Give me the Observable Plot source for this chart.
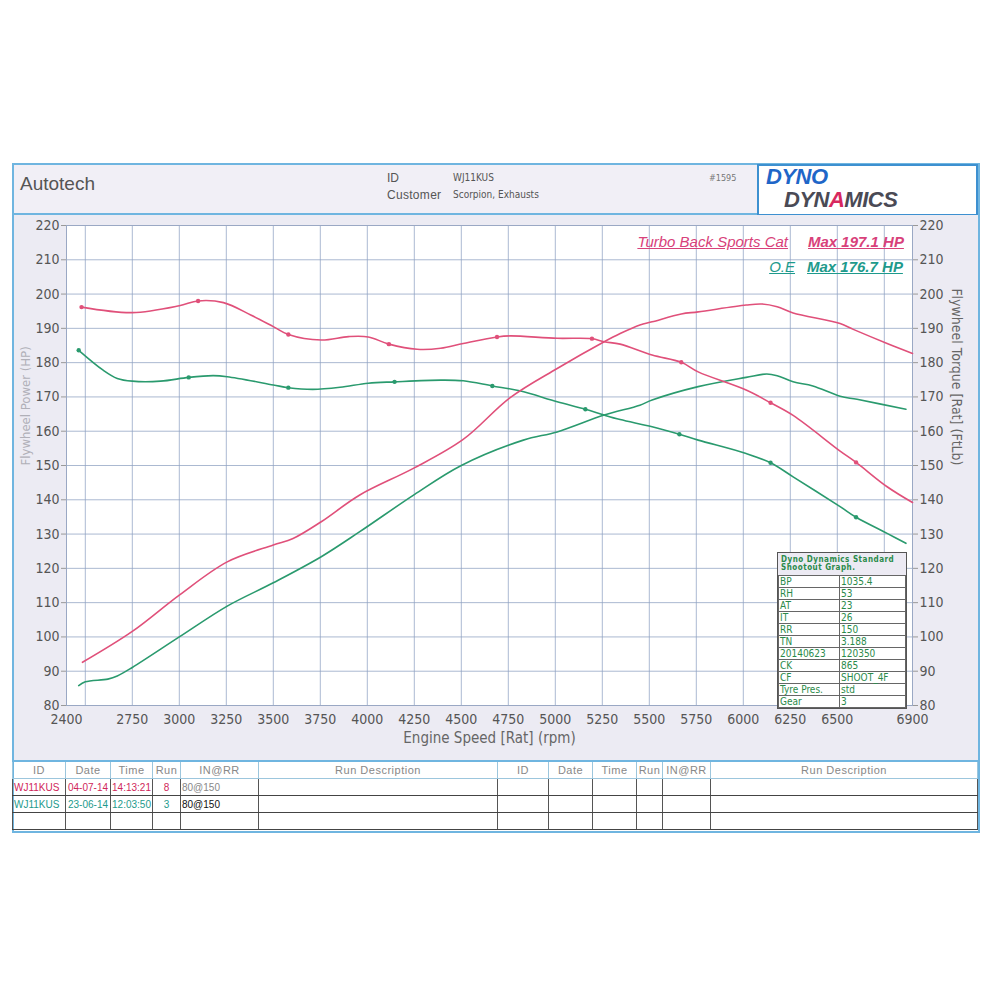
<!DOCTYPE html>
<html><head><meta charset="utf-8">
<script src="https://cdn.jsdelivr.net/npm/d3@7"></script>
<script src="https://cdn.jsdelivr.net/npm/@observablehq/plot@0.6"></script>
<style>
body{margin:0;background:#fff;font-family:"Liberation Sans",Arial,sans-serif;}
#page{position:relative;width:1000px;height:1000px;overflow:hidden;}
.abs{position:absolute;}
#frame{left:12px;top:163px;width:964px;height:666px;border:2px solid #6fb5e0;}
#header{left:14px;top:165px;width:743px;height:48px;background:#f1eff6;border-bottom:2px solid #6fb5e0;}
#logo{left:757px;top:164px;width:217px;height:48px;background:#fff;border:2px solid #3d90d0;}
.narrow{font-family:"Liberation Sans Narrow","DejaVu Sans Condensed",Arial,sans-serif;}
.leg{font-style:italic;text-decoration:underline;font-size:15px;white-space:nowrap;}
#info{left:777px;top:552px;width:128px;background:#fff;border:1px solid #555;font-size:10px;color:#2a8a4a;}
#info table{border-collapse:collapse;width:100%;}
#info td{border:1px solid #666;padding:0 1px;height:11px;line-height:11px;}
.bt{position:absolute;border-collapse:collapse;table-layout:fixed;}
.bt td{height:16px;padding:0 1px;font-size:10px;white-space:nowrap;overflow:hidden;border-left:1px solid #555;border-right:1px solid #555;border-bottom:1px solid #444;}
.bt tr.h td{color:#888;font-size:11px;letter-spacing:0.5px;text-align:center;border-color:#9cc6dd;height:16px;}
</style></head><body>
<div id="page">
  <div id="frame" class="abs"></div>
  <div id="header" class="abs"></div>
  <div class="abs" style="left:20px;top:173px;font-size:19px;color:#555;">Autotech</div>
  <div class="abs" style="left:387px;top:171px;font-size:12px;color:#555;">ID</div>
  <div class="abs narrow" style="left:453px;top:172px;font-size:10px;color:#555;">WJ11KUS</div>
  <div class="abs" style="left:387px;top:188px;font-size:12px;color:#555;letter-spacing:0.3px;">Customer</div>
  <div class="abs narrow" style="left:453px;top:189px;font-size:10px;color:#555;">Scorpion, Exhausts</div>
  <div class="abs narrow" style="left:709px;top:173px;font-size:9px;color:#777;">#1595</div>
  <div id="logo" class="abs"></div>
  <div class="abs" style="left:766px;top:166px;font-size:22px;line-height:22px;font-weight:900;font-style:italic;color:#1f66c8;letter-spacing:-0.5px;">DYNO</div>
  <div class="abs" style="left:784px;top:189px;font-size:22px;line-height:22px;font-weight:900;font-style:italic;color:#4a4a55;letter-spacing:-0.5px;">DYN<span style="color:#d8285f">A</span>MICS</div>
  <div id="chart" class="abs" style="left:14px;top:215px;"></div>
  <div class="abs leg" style="right:212px;top:233px;color:#d8417a;">Turbo Back Sports Cat</div>
  <div class="abs leg" style="left:808px;top:233px;color:#d8417a;font-weight:bold;">Max 197.1 HP</div>
  <div class="abs leg" style="right:205px;top:258px;color:#1e9a8c;">O.E</div>
  <div class="abs leg" style="left:807px;top:258px;color:#1e9a8c;font-weight:bold;">Max 176.7 HP</div>
  <div id="info" class="abs narrow">
    <div style="background:#eceaf3;font-weight:bold;font-size:8px;line-height:8px;padding:3px 3px 3px;letter-spacing:0.5px;">Dyno Dynamics Standard Shootout Graph.</div>
    <table id="infotab"></table>
  </div>
  <div class="abs" style="left:12px;top:760px;width:966px;border-top:2px solid #6fb5e0;"></div>
  <table id="btL" class="bt" style="left:12px;top:762px;"></table>
  <table id="btR" class="bt" style="left:497px;top:762px;"></table>
</div>
<script>
// ---------- data ----------
const xTicks = [2400, 2750, 3000, 3250, 3500, 3750, 4000, 4250, 4500, 4750, 5000, 5250, 5500, 5750, 6000, 6250, 6500, 6900];
const xGrid = [2500, 2750, 3000, 3250, 3500, 3750, 4000, 4250, 4500, 4750, 5000, 5250, 5500, 5750, 6000, 6250, 6500, 6750];
const yTicks = [80, 90, 100, 110, 120, 130, 140, 150, 160, 170, 180, 190, 200, 210, 220];

// Turbo Back Sports Cat (red)
const redPowerRpm = [2485, 2750, 3000, 3255, 3500, 3605, 3755, 3960, 4250, 4510, 4760, 5010, 5260, 5345, 5450, 5515, 5670, 5760, 6015, 6100, 6180, 6265, 6515, 6585, 6765, 6900];
const redPowerHp  = [92.6, 101.6, 112.2, 121.9, 126.8, 128.7, 133.6, 141.4, 149.3, 157.6, 169.8, 178.3, 186.1, 188.5, 191.0, 191.9, 194.2, 194.8, 196.8, 197.1, 196.3, 194.5, 191.4, 189.7, 185.6, 182.7];
const redTorqueRpm = [2480, 2750, 3000, 3100, 3235, 3380, 3500, 3580, 3755, 3900, 4005, 4115, 4265, 4390, 4510, 4690, 4760, 5010, 5195, 5260, 5345, 5515, 5670, 5760, 6015, 6145, 6265, 6515, 6600, 6765, 6900];
const redTorqueFtLb = [196.2, 194.6, 196.6, 198.0, 197.5, 193.9, 190.5, 188.2, 186.6, 187.6, 187.5, 185.4, 183.9, 184.2, 185.6, 187.5, 187.8, 187.1, 187.0, 186.1, 185.4, 182.2, 180.1, 177.3, 172.0, 168.3, 164.6, 154.2, 150.9, 143.8, 139.2];
const redMarkRpm = [2480, 3100, 3580, 4115, 4690, 5195, 5670, 6145, 6600];

// O.E (green)
const greenPowerRpm = [2465, 2500, 2620, 2670, 2750, 3000, 3255, 3500, 3755, 3960, 4250, 4500, 4830, 5010, 5260, 5450, 5515, 5760, 6015, 6125, 6180, 6265, 6370, 6515, 6605, 6865];
const greenPowerHp  = [85.8, 86.9, 87.7, 88.6, 91.1, 100.0, 109.0, 115.8, 123.4, 130.7, 141.5, 150.0, 157.4, 159.8, 164.7, 167.6, 169.1, 173.0, 175.7, 176.7, 176.2, 174.4, 173.2, 170.2, 169.3, 166.4];
const greenTorqueRpm = [2465, 2595, 2670, 2750, 2900, 3050, 3180, 3255, 3500, 3580, 3710, 3855, 4005, 4145, 4390, 4510, 4665, 4810, 5010, 5160, 5260, 5345, 5515, 5660, 5760, 6015, 6145, 6265, 6515, 6600, 6765, 6865];
const greenTorqueFtLb = [183.6, 177.8, 175.4, 174.6, 174.6, 175.7, 176.2, 175.9, 173.5, 172.7, 172.2, 172.8, 174.0, 174.4, 174.9, 174.7, 173.2, 171.8, 168.6, 166.4, 164.7, 163.4, 161.3, 159.1, 157.4, 153.5, 150.8, 146.7, 138.0, 134.9, 130.2, 127.3];
const greenMarkRpm = [2465, 3050, 3580, 4145, 4665, 5160, 5660, 6145, 6600];

const infoLabels = ["BP", "RH", "AT", "IT", "RR", "TN", "20140623", "CK", "CF", "Tyre Pres.", "Gear"];
const infoValues = ["1035.4", "53", "23", "26", "150", "3.188", "120350", "865", "SHOOT_4F", "std", "3"];

const tableHeaders = ["ID", "Date", "Time", "Run", "IN@RR", "Run Description"];
const runIds = ["WJ11KUS", "WJ11KUS"];
const runDates = ["04-07-14", "23-06-14"];
const runTimes = ["14:13:21", "12:03:50"];
const runNums = ["8", "3"];
const runInRR = ["80@150", "80@150"];

// ---------- build ----------
const RED = "#e0507a", GREEN = "#2a9a6e";
const toPts = (xs, ys) => xs.map((x, i) => ({rpm: x, v: ys[i]}));
const redPower = toPts(redPowerRpm, redPowerHp);
const redTorque = toPts(redTorqueRpm, redTorqueFtLb);
const greenPower = toPts(greenPowerRpm, greenPowerHp);
const greenTorque = toPts(greenTorqueRpm, greenTorqueFtLb);
const redMarks = redTorque.filter(d => redMarkRpm.includes(d.rpm));
const greenMarks = greenTorque.filter(d => greenMarkRpm.includes(d.rpm));

const tickFont = "Liberation Sans Narrow, DejaVu Sans Condensed, Arial, sans-serif";
const chart = Plot.plot({
  width: 964, height: 545,
  marginLeft: 52, marginRight: 66, marginTop: 10, marginBottom: 55,
  style: {background: "#ecebf3", fontFamily: tickFont, fontSize: "14px", color: "#555"},
  x: {domain: [2400, 6900]},
  y: {domain: [80, 220]},
  marks: [
    Plot.frame({fill: "#ffffff", stroke: "none"}),
    Plot.gridX(xGrid, {stroke: "#8fa2c2", strokeOpacity: 0.75}),
    Plot.gridY(yTicks.slice(1, -1), {stroke: "#8fa2c2", strokeOpacity: 0.75}),
    Plot.frame({stroke: "#9aa8c4"}),
    Plot.axisY(yTicks, {anchor: "left", tickSize: 5, tickPadding: 2, label: null, stroke: "#999", fill: "#555"}),
    Plot.axisY(yTicks, {anchor: "right", tickSize: 5, tickPadding: 2, label: null, stroke: "#999", fill: "#555"}),
    Plot.axisX(xTicks, {anchor: "bottom", tickSize: 0, tickPadding: 9, label: null, tickFormat: d => String(d), fill: "#555"}),
    Plot.text(["Flywheel Power (HP)"], {frameAnchor: "left", dx: -41, rotate: -90, fill: "#b0b0b8", fontSize: 13}),
    Plot.text(["Flywheel Torque [Rat] (FtLb)"], {frameAnchor: "right", dx: 44, rotate: 90, fill: "#666", fontSize: 14}),
    Plot.text(["Engine Speed [Rat] (rpm)"], {frameAnchor: "bottom", dy: 37, fill: "#666", fontSize: 15}),
    Plot.line(greenPower, {x: "rpm", y: "v", stroke: GREEN, strokeWidth: 1.6, curve: "catmull-rom"}),
    Plot.line(greenTorque, {x: "rpm", y: "v", stroke: GREEN, strokeWidth: 1.6, curve: "catmull-rom"}),
    Plot.line(redPower, {x: "rpm", y: "v", stroke: RED, strokeWidth: 1.6, curve: "catmull-rom"}),
    Plot.line(redTorque, {x: "rpm", y: "v", stroke: RED, strokeWidth: 1.6, curve: "catmull-rom"}),
    Plot.dot(redMarks, {x: "rpm", y: "v", r: 2.2, fill: RED}),
    Plot.dot(greenMarks, {x: "rpm", y: "v", r: 2.2, fill: GREEN})
  ]
});
document.getElementById("chart").appendChild(chart);

// info box
const infotab = document.getElementById("infotab");
infoLabels.forEach((l, i) => {
  const tr = document.createElement("tr");
  tr.innerHTML = `<td style="width:58px">${l}</td><td>${infoValues[i]}</td>`;
  infotab.appendChild(tr);
});

// bottom tables
function buildTable(el, widths, filled) {
  let html = "<colgroup>" + widths.map(w => `<col style="width:${w}px">`).join("") + "</colgroup>";
  html += "<tr class='h'>" + tableHeaders.map(h => `<td>${h}</td>`).join("") + "</tr>";
  for (let r = 0; r < 3; r++) {
    html += "<tr>";
    if (filled && r < 2) {
      const c = r === 0 ? "#d0265a" : "#1e9a8c";
      const c2 = r === 0 ? "#888" : "#111";
      html += `<td style="color:${c}">${runIds[r]}</td><td style="color:${c};text-align:center">${runDates[r]}</td><td style="color:${c};text-align:center">${runTimes[r]}</td><td style="color:${c};text-align:center">${runNums[r]}</td><td style="color:${c2}">${runInRR[r]}</td><td></td>`;
    } else {
      html += "<td></td><td></td><td></td><td></td><td></td><td></td>";
    }
    html += "</tr>";
  }
  el.innerHTML = html;
  el.style.width = widths.reduce((a, b) => a + b, 0) + "px";
}
buildTable(document.getElementById("btL"), [53, 45, 42, 28, 78, 239], true);
buildTable(document.getElementById("btR"), [51, 44, 44, 26, 48, 267], false);
</script>
</body></html>
